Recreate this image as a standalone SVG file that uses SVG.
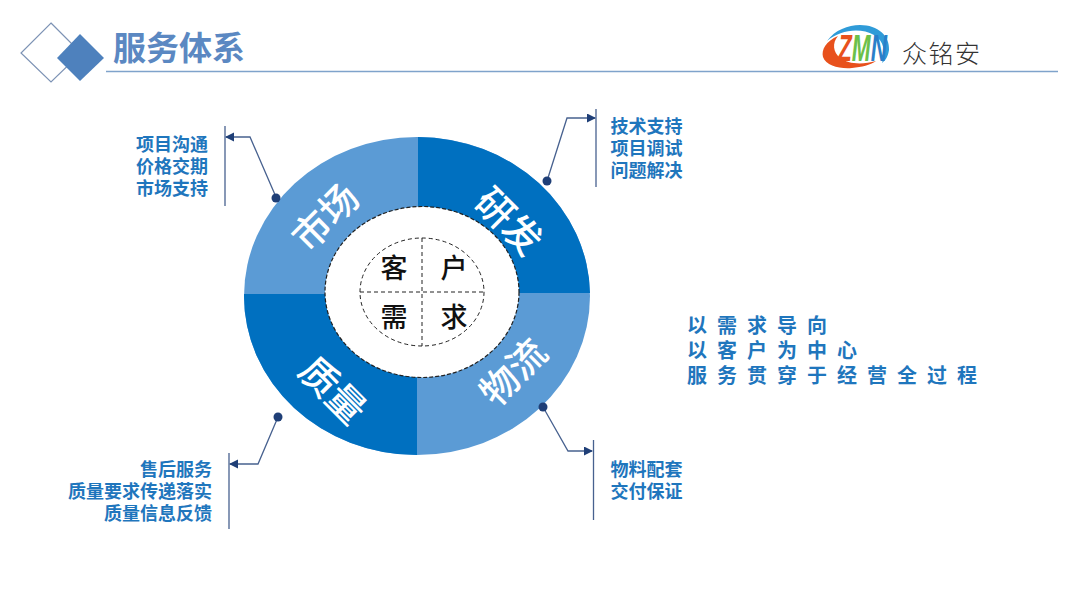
<svg xmlns="http://www.w3.org/2000/svg" width="1080" height="608" viewBox="0 0 1080 608">
<defs>
<marker id="arr" markerUnits="userSpaceOnUse" markerWidth="10" markerHeight="10" refX="8" refY="4.5" orient="auto"><path d="M0 0L9 4.5L0 9Z" fill="#1f3f77"/></marker>
</defs>
<style>
text{font-family:"Noto Sans CJK SC","Noto Sans",sans-serif}
.lbl{font-size:18px;font-weight:700;fill:#1f76bd}
.tag{font-size:20px;font-weight:700;fill:#1f76bd;letter-spacing:10px}
.seg{font-size:38px;fill:#fff;font-weight:500;text-anchor:middle}
.ctr{font-size:27px;font-weight:500;fill:#111;text-anchor:middle}
.bar{stroke:#47618f;stroke-width:1.3;fill:none}
.lead{stroke:#47618f;stroke-width:1.3;fill:none;marker-end:url(#arr)}
.dot{fill:#1f3f77}
.dash{stroke:#222;stroke-width:1;stroke-dasharray:4 3;fill:none}
.logo{font-size:36px;font-weight:700;font-style:italic;font-family:"Liberation Sans",sans-serif}
</style>
<rect width="1080" height="608" fill="#fff"/>
<g id="header">
<path d="M51 23L81 53L51 82L21 53Z" fill="none" stroke="#7d93b5" stroke-width="1.2"/>
<path d="M80 34L104 58L80 81L57 58Z" fill="#4e81bd"/>
<text x="113" y="60" font-size="33" font-weight="700" fill="#5b88c2">服务体系</text>
<line x1="106" y1="71.500" x2="1058" y2="71.500" stroke="#7fa3cb" stroke-width="1.300"/>
</g>
<g id="logo">
<path d="M827 41C835 30 848 25 860 25C878 25 890 36 889 50C888 56 886 60 882 63C886 52 884 41 874 35C860 27 840 30 827 41Z" fill="#2f9bd8"/>
<path d="M838 36C826 41 821 50 823 57C826 66 840 69 852 68C862 67 870 65 876 61C862 65 848 64 840 58C833 52 832 43 838 36Z" fill="#e8511c"/>
<text class="logo" x="838" y="61" textLength="49" lengthAdjust="spacingAndGlyphs"><tspan fill="#e8511c">Z</tspan><tspan fill="#6cc04a">M</tspan><tspan fill="#2a7fc9">N</tspan></text>
<text x="902" y="63" font-size="25" font-weight="300" fill="#333" letter-spacing="1.500">众铭安</text>
</g>
<g id="ring">
<ellipse cx="417" cy="296" rx="173" ry="159" fill="#5b9bd5"/>
<path d="M418 137A173 159 0 0 1 590 293L418 293Z" fill="#0070c0"/>
<path d="M244 294L417 294L417 455A173 159 0 0 1 244 294Z" fill="#0070c0"/>
<ellipse cx="422" cy="292" rx="97" ry="85.500" fill="#fff" stroke="#222" stroke-width="1.200" stroke-dasharray="4 2"/>
</g>
<g id="seg-market"><text class="seg" transform="translate(335 227) rotate(-45)">市场</text></g>
<g id="seg-rd"><text class="seg" transform="translate(499 231) rotate(45)">研发</text></g>
<g id="seg-quality"><text class="seg" transform="translate(323 400) rotate(45)">质量</text></g>
<g id="seg-logistics"><text class="seg" transform="translate(523 382) rotate(-45)">物流</text></g>
<g id="center">
<ellipse class="dash" cx="422" cy="292" rx="62" ry="54"/>
<line class="dash" x1="422" y1="238" x2="422" y2="346"/>
<line class="dash" x1="360" y1="292" x2="484" y2="292"/>
<text class="ctr" x="394" y="278">客</text>
<text class="ctr" x="454" y="278">户</text>
<text class="ctr" x="394" y="327">需</text>
<text class="ctr" x="454" y="327">求</text>
</g>
<g id="connectors">
<line class="bar" x1="225" y1="126" x2="225" y2="206"/>
<path class="lead" d="M276 197L250 137L226 137"/>
<circle class="dot" cx="276" cy="198" r="4.500"/>
<line class="bar" x1="596" y1="109" x2="596" y2="187"/>
<path class="lead" d="M547 181L567 118L595 118"/>
<circle class="dot" cx="547" cy="181" r="4.500"/>
<line class="bar" x1="229" y1="453" x2="229" y2="529"/>
<path class="lead" d="M278 417L258 464L230 464"/>
<circle class="dot" cx="278" cy="417" r="4.500"/>
<line class="bar" x1="593.500" y1="440" x2="593.500" y2="520"/>
<path class="lead" d="M543 407L568 451L592 451"/>
<circle class="dot" cx="543" cy="407" r="4.500"/>
</g>
<g id="label-market">
<text class="lbl" text-anchor="end"><tspan x="208" y="151">项目沟通</tspan><tspan x="208" y="173">价格交期</tspan><tspan x="208" y="195">市场支持</tspan></text>
</g>
<g id="label-rd">
<text class="lbl"><tspan x="610.500" y="133">技术支持</tspan><tspan x="610.500" y="155">项目调试</tspan><tspan x="610.500" y="177">问题解决</tspan></text>
</g>
<g id="label-quality">
<text class="lbl" text-anchor="end"><tspan x="212" y="476">售后服务</tspan><tspan x="212" y="498">质量要求传递落实</tspan><tspan x="212" y="520">质量信息反馈</tspan></text>
</g>
<g id="label-logistics">
<text class="lbl"><tspan x="610.500" y="476">物料配套</tspan><tspan x="610.500" y="498">交付保证</tspan></text>
</g>
<g id="tagline">
<text class="tag"><tspan x="687" y="333">以需求导向</tspan><tspan x="687" y="358">以客户为中心</tspan><tspan x="687" y="383">服务贯穿于经营全过程</tspan></text>
</g>
</svg>
